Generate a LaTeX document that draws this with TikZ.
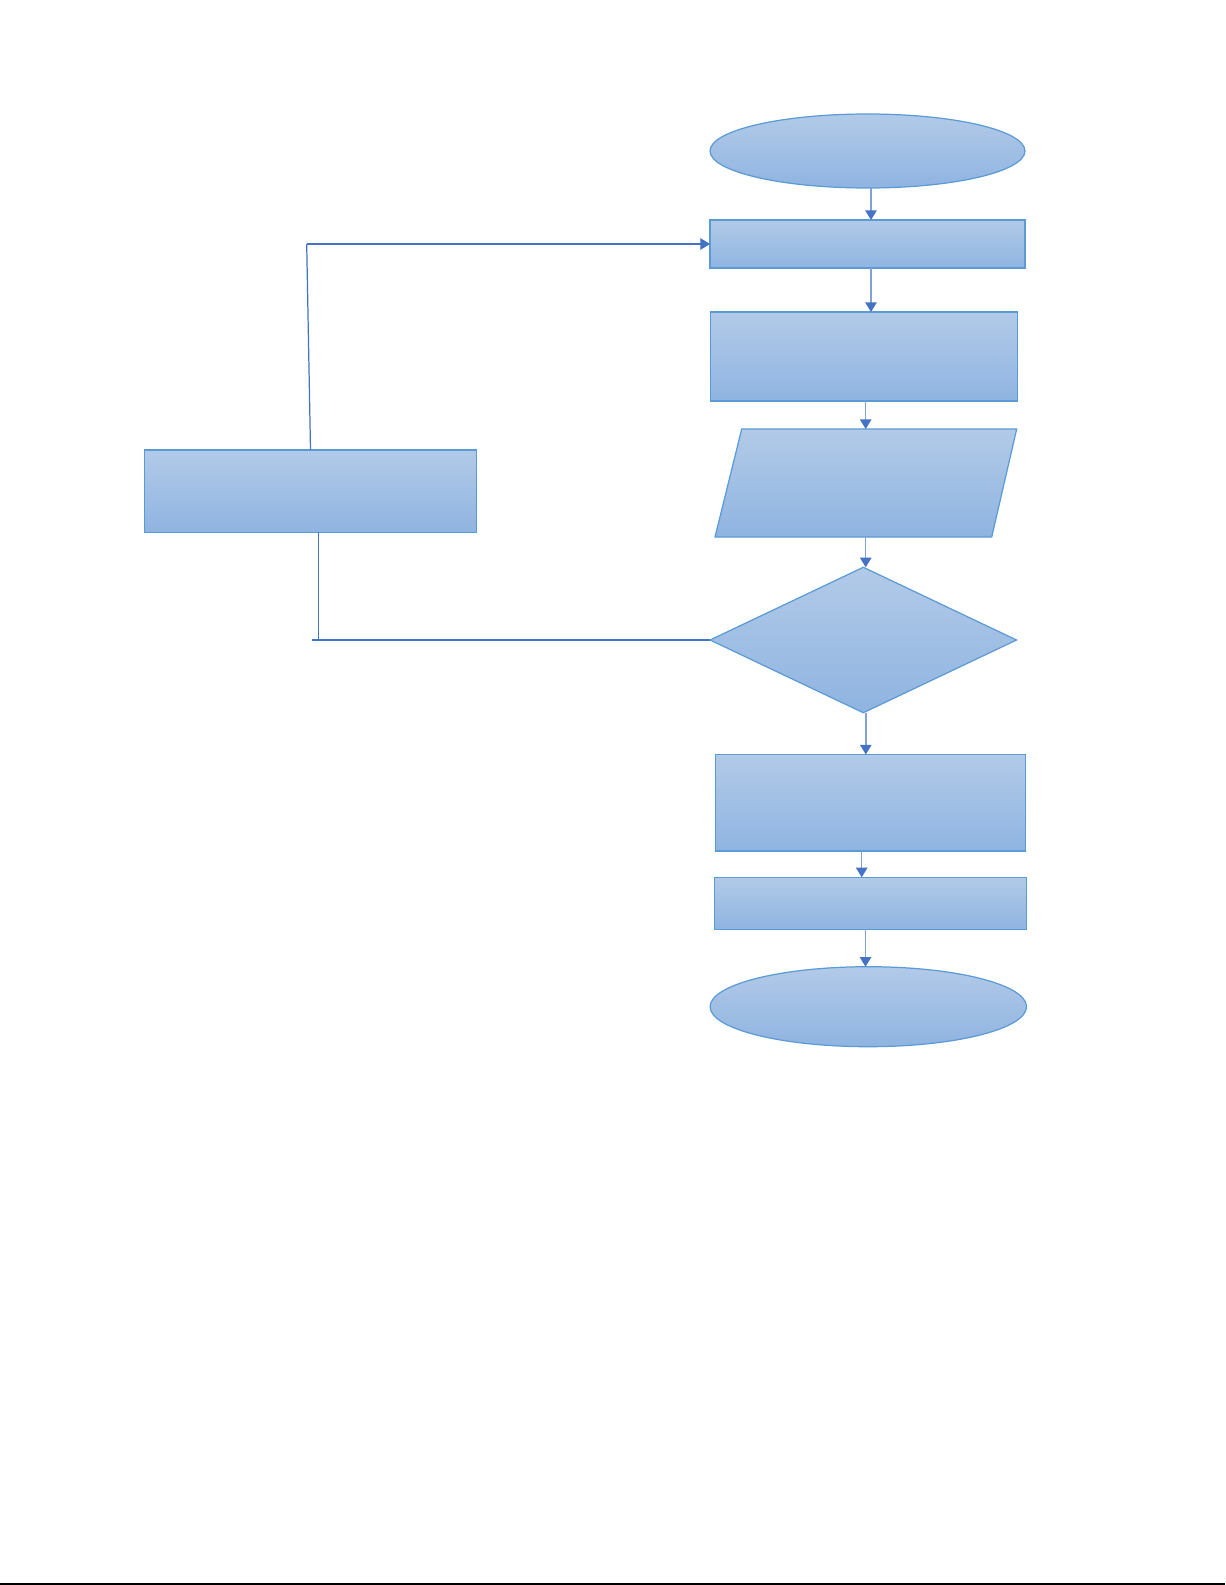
\documentclass[tikz,border=0pt]{standalone}
\usetikzlibrary{shapes.geometric,arrows.meta}
\definecolor{shapeline}{RGB}{91,155,213}
\definecolor{shadetop}{RGB}{178,202,232}
\definecolor{shadebot}{RGB}{143,180,225}
\definecolor{arrowblue}{RGB}{68,114,196}
\definecolor{linkblue}{RGB}{130,160,218}
\begin{document}
\begin{tikzpicture}[x=0.02cm,y=-0.02cm,
  filled/.style={draw=shapeline,line width=0.7pt,top color=shadetop,bottom color=shadebot},
  block/.style={filled,rectangle,inner sep=0pt,outer sep=0pt},
  terminal/.style={filled,ellipse,inner sep=0pt,outer sep=0pt},
  choice/.style={filled,diamond,inner sep=0pt,outer sep=0pt},
  link/.style={draw=linkblue,line width=0.8pt,-{Triangle[length=5.5pt,width=6.5pt,color=arrowblue]}},
  loopline/.style={draw=arrowblue,line width=0.7pt}]
\useasboundingbox (0,0) rectangle (1225,1585);

\node[terminal,minimum width=6.3cm,minimum height=1.48cm] (start) at (867.5,151) {};
\node[block,minimum width=6.3cm,minimum height=0.96cm] (init) at (867.5,244) {};
\node[block,minimum width=6.15cm,minimum height=1.78cm] (compute) at (864,356.5) {};

\coordinate (inA) at (715,537);
\coordinate (inB) at (741.7,429);
\coordinate (inC) at (1016.7,429);
\coordinate (inD) at (991.7,537);
\path[filled] (inA) -- (inB) -- (inC) -- (inD) -- cycle;
\coordinate (intop) at (865.7,429);
\coordinate (inbot) at (865.7,537);

\node[choice,minimum width=6.13cm,minimum height=2.91cm] (check) at (863.3,640) {};
\node[block,minimum width=6.2cm,minimum height=1.93cm] (result) at (870.7,802.7) {};
\node[block,minimum width=6.25cm,minimum height=1.04cm] (output) at (870.5,903.3) {};
\node[terminal,minimum width=6.33cm,minimum height=1.6cm] (stop) at (868.3,1006.7) {};

\node[block,minimum width=6.65cm,minimum height=1.65cm] (update) at (310.5,491.2) {};

\draw[link] ([xshift=0.07cm]start.south) -- ([xshift=0.07cm]start.south |- init.north);
\draw[link] ([xshift=0.07cm]init.south) -- ([xshift=0.07cm]init.south |- compute.north);
\draw[link] (intop |- compute.south) -- (intop);
\draw[link] (inbot) -- (inbot |- check.north);
\draw[link] ([xshift=0.05cm]check.south) -- ([xshift=0.05cm]check.south |- result.north);
\draw[link] ([xshift=-0.18cm]result.south) -- ([xshift=-0.18cm]result.south |- output.north);
\draw[link] ([xshift=-0.1cm]output.south) -- ([xshift=-0.1cm]output.south |- stop.north);

\coordinate (loopend) at (311.7,640);
\coordinate (looptop) at (306.7,244);
\draw[loopline] (check.west) -- (loopend);
\draw[loopline] ([xshift=0.16cm]update.south) -- ([xshift=0.16cm,yshift=-0.02cm]update.south |- check.west);
\draw[loopline] (update.north) -- (looptop);
\draw[loopline,-{Triangle[length=5.5pt,width=6.5pt]}] (looptop) -- (init.west);

\draw[black,line width=0.8pt] (0,1584) -- (1225,1584);
\end{tikzpicture}
\end{document}
